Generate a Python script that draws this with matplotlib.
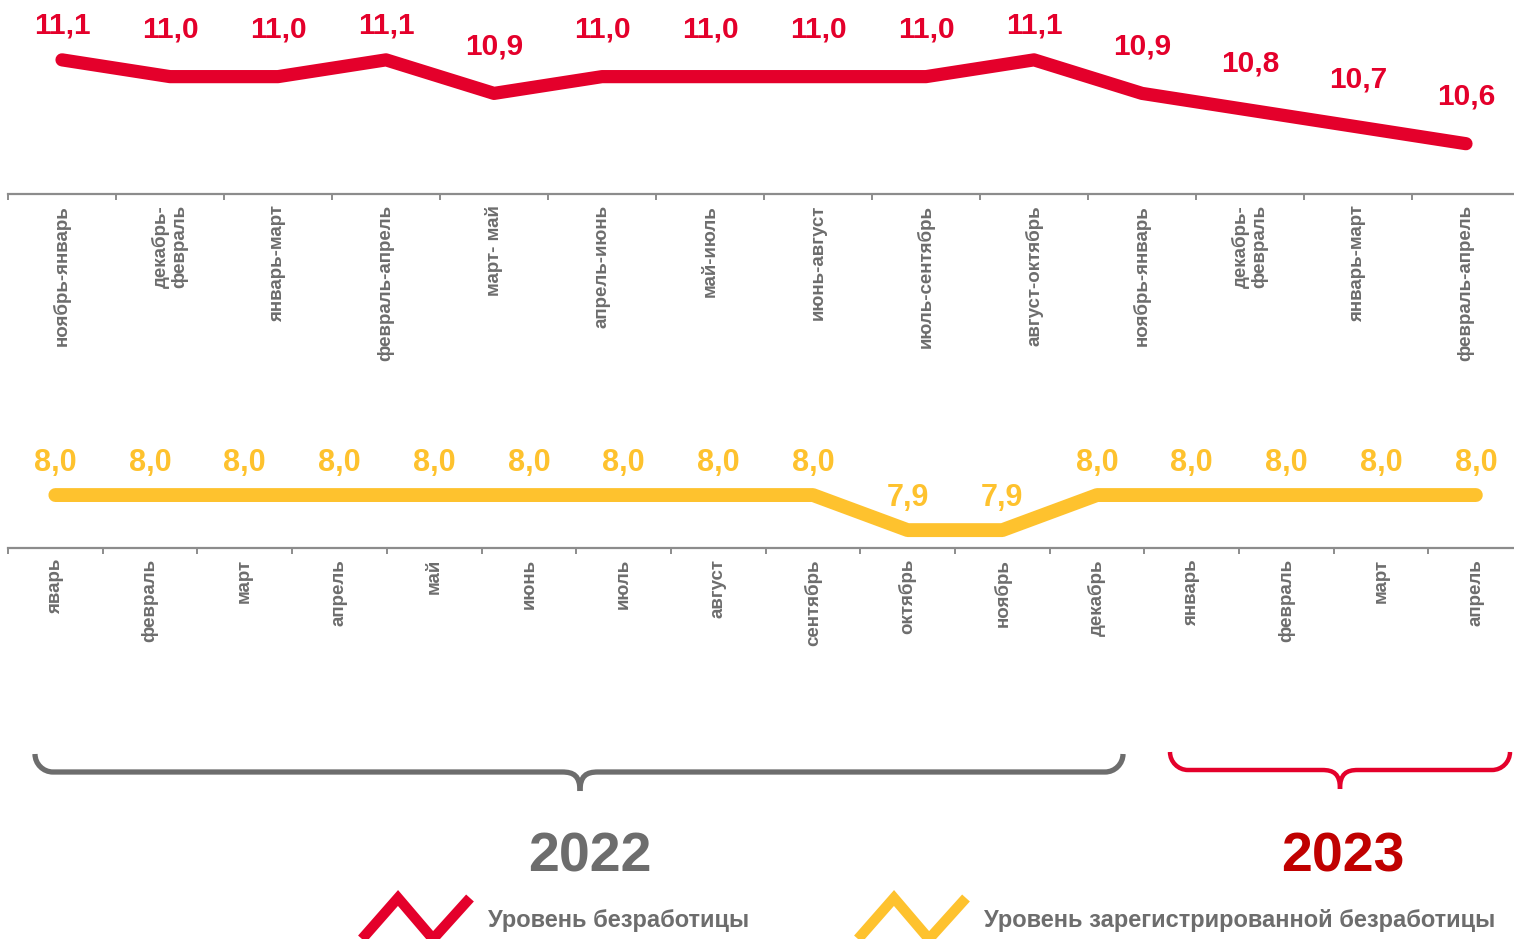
import numpy as np
import matplotlib; matplotlib.use("Agg")
import matplotlib.pyplot as plt
from matplotlib.path import Path
from matplotlib.patches import PathPatch
from matplotlib.lines import Line2D

W, H = 1514, 939
RED = "#E4002B"
DARKRED = "#C00000"
YELLOW = "#FEC22E"
GRAY = "#6d6d6d"
AXGRAY = "#8c8c8c"

top_labels = ["ноябрь-январь", "декабрь-\nфевраль", "январь-март", "февраль-апрель",
              "март- май", "апрель-июнь", "май-июль", "июнь-август", "июль-сентябрь",
              "август-октябрь", "ноябрь-январь", "декабрь-\nфевраль", "январь-март",
              "февраль-апрель"]
top_values = [11.1, 11.0, 11.0, 11.1, 10.9, 11.0, 11.0, 11.0, 11.0, 11.1, 10.9, 10.8, 10.7, 10.6]

bot_labels = ["яварь", "февраль", "март", "апрель", "май", "июнь", "июль", "август",
              "сентябрь", "октябрь", "ноябрь", "декабрь", "январь", "февраль", "март", "апрель"]
bot_values = [8.0, 8.0, 8.0, 8.0, 8.0, 8.0, 8.0, 8.0, 8.0, 7.9, 7.9, 8.0, 8.0, 8.0, 8.0, 8.0]

years = ["2022", "2023"]
legend_names = ["Уровень безработицы", "Уровень зарегистрированной безработицы"]

plt.rcParams["font.family"] = ["Liberation Sans", "DejaVu Sans"]

fig = plt.figure(figsize=(W / 100, H / 100), dpi=100)


def px_axes(x0, ytop, wpx, ybot):
    return fig.add_axes([x0 / W, (H - ybot) / H, wpx / W, (ybot - ytop) / H])


def style_axis(ax, labels):
    n = len(labels)
    ax.set_xlim(-0.5, n - 0.5)
    for s in ["top", "left", "right"]:
        ax.spines[s].set_visible(False)
    ax.spines["bottom"].set_color(AXGRAY)
    ax.spines["bottom"].set_linewidth(1.6)
    ax.set_yticks([])
    ax.set_xticks(np.arange(n))
    ax.set_xticklabels(labels, rotation=90, ha="center", va="top",
                       fontsize=13.5, fontweight="bold", color=GRAY, linespacing=1.1)
    ax.set_xticks(np.arange(n + 1) - 0.5, minor=True)
    ax.tick_params(axis="x", which="major", length=0, pad=8)
    ax.tick_params(axis="x", which="minor", length=4.5, width=1.4, color=AXGRAY, direction="out")
    ax.patch.set_visible(False)


# ---- top: unemployment rate ----
ax1 = px_axes(8, 0, 14 * 108, 194)
ymax1 = 11.457
ax1.set_ylim(10.3, ymax1)
style_axis(ax1, top_labels)
x1 = np.arange(len(top_values))
ax1.plot(x1, top_values, color=RED, lw=9.5, solid_capstyle="round",
         solid_joinstyle="round", clip_on=False)
for xi, v in zip(x1, top_values):
    ax1.text(xi, min(v + 0.28, ymax1 - 0.15), f"{v:.1f}".replace(".", ","),
             ha="center", va="center", color=RED, fontsize=21.5, fontweight="bold")

# ---- bottom: registered unemployment ----
ax2 = px_axes(8, 420, 16 * 94.7, 548)
ax2.set_ylim(7.849, 8.214)
style_axis(ax2, bot_labels)
x2 = np.arange(len(bot_values))
ax2.plot(x2, bot_values, color=YELLOW, lw=10, solid_capstyle="round",
         solid_joinstyle="round", clip_on=False)
for xi, v in zip(x2, bot_values):
    ax2.annotate(f"{v:.1f}".replace(".", ","), (xi, v), xytext=(0, 23),
                 textcoords="offset points", ha="center", va="center",
                 color=YELLOW, fontsize=22, fontweight="bold")


# ---- braces (figure pixel coords, y from top) ----
def half_brace(xe, xc, ytop, ymid, ytip, color, lw):
    r = ymid - ytop
    s = 1 if xc > xe else -1
    k = 0.55
    pts = [(xe, ytop), (xe, ytop + k * r), (xe + s * (r - k * r), ymid), (xe + s * r, ymid),
           (xc - s * r, ymid),
           (xc - s * 0.35 * r, ymid), (xc, ymid + 0.2 * (ytip - ymid)), (xc, ytip)]
    codes = [Path.MOVETO, Path.CURVE4, Path.CURVE4, Path.CURVE4, Path.LINETO,
             Path.CURVE4, Path.CURVE4, Path.CURVE4]
    verts = [(x / W, (H - y) / H) for x, y in pts]
    fig.patches.append(PathPatch(Path(verts, codes), fill=False, ec=color, lw=lw,
                                 capstyle="butt", transform=fig.transFigure))


for (a, b, c, ytop, ymid, ytip, col, lw) in [(35, 1123, 580, 754, 772, 791, GRAY, 3.8),
                                             (1170, 1510, 1340, 752, 770, 789, RED, 3.2)]:
    half_brace(a, c, ytop, ymid, ytip, col, lw)
    half_brace(b, c, ytop, ymid, ytip, col, lw)

fig.text(590 / W, 1 - 858 / H, years[0], ha="center", va="center", fontsize=40,
         fontweight="bold", color=GRAY)
fig.text(1343 / W, 1 - 858 / H, years[1], ha="center", va="center", fontsize=40,
         fontweight="bold", color=DARKRED)

# ---- legend ----
for x0, col, name in [(362, RED, legend_names[0]), (858, YELLOW, legend_names[1])]:
    xs = [x0, x0 + 36, x0 + 71, x0 + 108]
    ys = [939, 898, 939, 898]
    fig.add_artist(Line2D([x / W for x in xs], [1 - y / H for y in ys], color=col, lw=7.5,
                          solid_joinstyle="miter", solid_capstyle="butt",
                          transform=fig.transFigure))
    fig.text((x0 + 126) / W, 1 - 920 / H, name, ha="left", va="center", fontsize=17,
             fontweight="bold", color=GRAY)

fig.savefig("out.png", dpi=100)
